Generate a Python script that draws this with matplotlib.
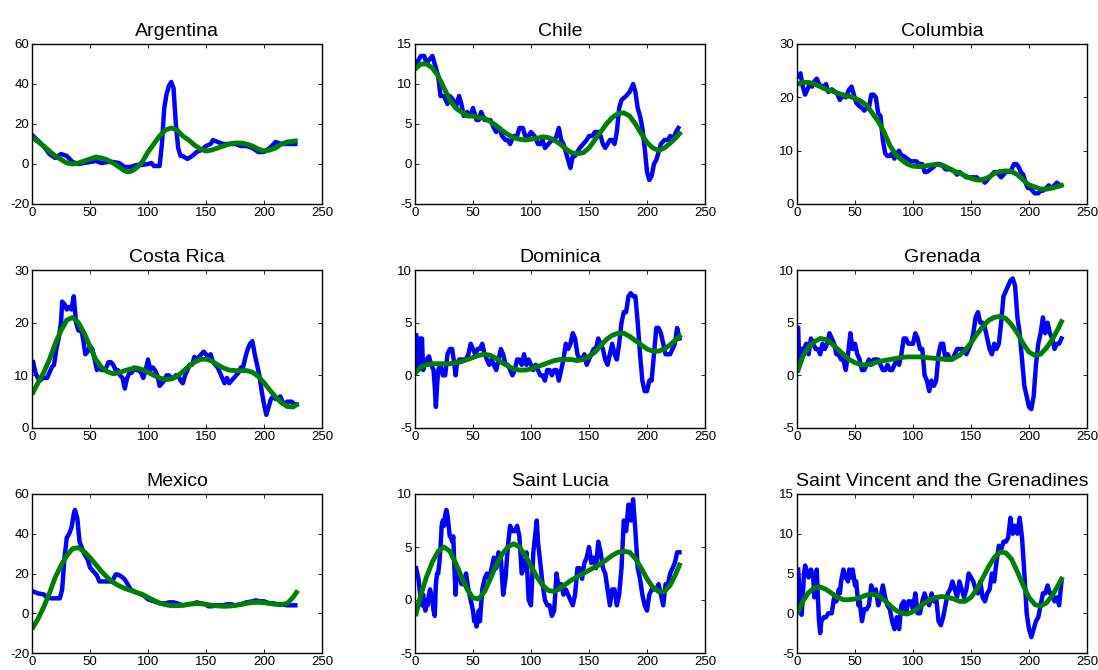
import matplotlib
matplotlib.use("Agg")
import matplotlib.pyplot as plt

plt.rcParams['font.family'] = ['Liberation Sans', 'DejaVu Sans']
plt.rcParams['axes.unicode_minus'] = False

# raw series (blue) and trend (green)
arg_x = [1, 10, 15, 20, 25, 30, 35, 40, 45, 50, 55, 60, 65, 70, 75, 80, 85, 90, 95, 100, 103, 105, 110, 112, 114,
         116, 118, 120, 122, 124, 126, 128, 130, 134, 138, 142, 146, 150, 154, 156, 160, 165, 170, 175, 180, 185,
         190, 195, 200, 205, 210, 215, 220, 227]
arg_y = [14, 9, 5, 3, 5, 4, 1, 0, 0.5, 1, 1.5, 0.5, 1, 1, 0.5, -1.5, -1.5, -0.5, -0.5, 0, 0.5, -1, -1, 10, 28,
         35, 39, 41, 38, 20, 8, 4, 4, 2.5, 4, 6, 7, 9, 10, 12, 11, 10, 10, 10, 9, 9,
         8, 6, 6, 8, 11, 10, 10, 10]
arg_fx = [1, 10, 20, 30, 35, 40, 45, 50, 55, 60, 65, 70, 75, 80, 83, 86, 90, 95, 100, 105, 110, 115, 120, 125, 130,
          135, 140, 145, 150, 155, 160, 165, 170, 175, 180, 185, 190, 195, 200, 205, 210, 215, 220, 227]
arg_fy = [13, 9, 4, 0.5, 0, 0.5, 1.5, 2.5, 3.5, 3, 2, 0.5, -1.5, -3.5, -4, -3.5, -2, 1, 6, 10, 14, 17, 18, 17, 14,
          12, 9.5, 7.5, 6.5, 7, 8, 9, 10, 10.5, 10.5, 10, 9, 7.5, 6.5, 7, 8, 10, 11, 11.5]

chl_x = [1, 3, 5, 8, 10, 12, 15, 18, 20, 22, 25, 28, 30, 33, 35, 38, 40, 42, 45, 48, 50, 53, 55, 57, 60, 63, 65,
         68, 70, 73, 75, 78, 80, 82, 85, 88, 90, 93, 95, 98, 100, 103, 106, 108, 110, 112, 115, 118, 120, 122, 124,
         126, 128, 130, 132, 134, 136, 138, 140, 142, 145, 148, 150, 153, 155, 158, 160, 162, 164, 166, 168, 170,
         172, 174, 176, 178, 182, 185, 188, 190, 192, 194, 196, 198, 200, 202, 204, 206, 208, 210, 212, 215, 218,
         220, 222, 225, 227]
chl_y = [12.5, 13, 13.5, 13.5, 12.5, 13, 13.5, 12, 11, 8.5, 8.5, 7.5, 8.5, 8, 7, 8.5, 7.5, 6, 6.5, 6, 7, 5.5, 5.5,
         6.5, 5.5, 5.5, 5.5, 4.5, 4, 4.5, 3.5, 3, 3, 2.5, 3.5, 3.5, 4.5, 4.5, 3.5, 3.5, 4, 3.5, 2.5, 2.5, 3, 2, 2.5,
         3, 3, 3.5, 4.5, 3, 2.5, 1.5, 0.5, -0.5, 1, 1, 1.5, 2, 2.5, 3, 3.5, 3.5, 4, 4, 3.5, 2.5, 2, 2.5, 3, 3, 2.5,
         4, 7, 8, 8.5, 9, 10, 9, 7, 6, 4.5, 2, -1, -2, -1.5, 0, 0.5, 1.5, 2.5, 3, 3, 3.5, 3, 4, 4.5]
chl_fx = [1, 5, 10, 15, 20, 25, 30, 35, 40, 45, 50, 55, 60, 65, 70, 75, 80, 85, 90, 95, 100, 105, 110, 115, 120,
          125, 130, 135, 140, 145, 150, 155, 160, 165, 170, 175, 180, 185, 190, 195, 200, 205, 210, 215, 220, 225,
          228]
chl_fy = [12, 12.5, 12.5, 12, 11, 9.5, 8, 7, 6.5, 6, 6, 5.8, 5.7, 5.3, 4.8, 4.2, 3.7, 3.3, 3.1, 3.0, 3.1, 3.2,
          3.4, 3.3, 3.0, 2.5, 1.9, 1.4, 1.3, 1.4, 2.0, 3.0, 4.0, 5.0, 5.8, 6.3, 6.4, 6.0, 5.0, 3.8, 2.7, 2.0, 1.7,
          2.0, 2.6, 3.3, 3.8]

col_x = [1, 3, 5, 7, 9, 11, 13, 15, 17, 19, 21, 23, 25, 27, 30, 33, 35, 37, 40, 42, 45, 47, 49, 51, 53, 56, 58, 60,
         62, 64, 66, 68, 70, 72, 74, 76, 78, 80, 82, 84, 86, 88, 90, 92, 95, 98, 100, 103, 105, 108, 110, 112, 115,
         118, 120, 123, 126, 128, 130, 133, 136, 138, 140, 143, 146, 150, 153, 155, 157, 160, 162, 164, 166, 168,
         170, 172, 174, 176, 178, 180, 183, 185, 187, 189, 191, 193, 195, 197, 199, 201, 203, 205, 208, 210, 212,
         215, 217, 219, 222, 224, 227]
col_y = [24, 24.5, 22, 20.5, 21.5, 22.5, 22, 23, 23.5, 22.5, 22, 22, 22.5, 21, 21.5, 21, 20.5, 19.5, 20.5, 20,
         21.5, 22, 20.5, 19, 18.5, 18, 17.5, 18, 18, 20.5, 20.5, 20, 17, 16.5, 12, 9.5, 9, 9, 9.5, 8.5, 9.5, 10, 9,
         9, 8.5, 8, 8, 8, 7.5, 7.5, 6, 6, 6.5, 7, 7.5, 7.5, 7, 6.5, 6.5, 6.5, 6, 5.5, 6, 5.5, 5, 5, 5, 5, 4.5, 4.5,
         4, 4.5, 5, 5.5, 6, 6, 5.5, 5, 5.5, 6, 6, 6.5, 7.5, 7.5, 7, 6, 5.5, 4, 3, 3, 2.5, 2, 2, 2.5, 2.5, 3, 3.5, 3,
         3.5, 4, 3.5]
col_fx = [1, 5, 10, 15, 20, 25, 30, 35, 40, 45, 50, 55, 60, 65, 70, 75, 80, 85, 90, 95, 100, 105, 110, 115, 120,
          125, 130, 135, 140, 145, 150, 155, 160, 165, 170, 175, 180, 185, 190, 195, 200, 205, 210, 215, 220, 225,
          228]
col_fy = [22.5, 22.8, 22.8, 22.5, 22, 21.5, 21.2, 20.8, 20.4, 20.2, 19.8, 19.3, 18.5, 17, 15.5, 13.5, 11, 9.3,
          8.3, 7.5, 7.1, 7.0, 7.1, 7.3, 7.4, 7.3, 6.8, 6.2, 5.8, 5.3, 4.8, 4.5, 4.6, 5.0, 5.7, 6.1, 6.2, 6.1, 5.5,
          4.5, 3.6, 3.2, 2.8, 2.8, 3.0, 3.3, 3.5]

cri_x = list(range(1, 26, 2)) + list(range(26, 229, 2))
cri_y = [12.5, 10.5, 9.5, 9, 9.5, 9.5, 9.5, 10.5, 11.5, 12, 15, 17, 20, 24, 23.5, 22.5, 23, 22.5, 25, 20, 18.5,
         19, 17, 14, 14.5, 15.5, 15, 13, 11, 11.5, 11, 11, 11.5, 12.5, 12.5, 12, 11, 11, 10, 9.5, 7.5, 9.5, 10.5,
         10.5, 11.5, 11, 11, 10.5, 9.5, 11, 13, 11, 11.5, 11, 10, 8, 8.5, 9, 10, 10, 9.5, 9.5, 10, 10, 9, 8.5, 10,
         11, 12, 12, 13.5, 13, 13.5, 14, 14.5, 14, 13.5, 14, 12.5, 12, 11.5, 10.5, 9.5, 8.5, 9.5, 8.5, 9, 9.5, 10,
         10.5, 11.5, 11.5, 13.5, 15, 16, 16.5, 14, 12, 10, 7, 4.5, 2.5, 4, 5.5, 6, 5.5, 5.5, 6, 5, 4.5, 5, 5, 5,
         4.5, 4.5]
cri_fx = [1, 5, 10, 15, 20, 25, 30, 35, 40, 45, 50, 55, 60, 65, 70, 75, 80, 85, 90, 95, 100, 105, 110, 115, 120,
          125, 130, 135, 140, 145, 150, 155, 160, 165, 170, 175, 180, 185, 190, 195, 200, 205, 210, 215, 220, 225,
          228]
cri_fy = [6.8, 8.5, 10.5, 13, 16, 18.5, 20.5, 21, 20, 18, 15.5, 13, 11.5, 10.7, 10.3, 10.5, 10.9, 11.2, 11.4,
          11.1, 10.6, 10.0, 9.5, 9.2, 9.3, 9.8, 10.7, 11.7, 12.5, 13.0, 13.1, 12.7, 12.0, 11.4, 11.0, 10.9, 10.9,
          10.9, 10.6, 9.8, 8.6, 7.2, 5.9, 4.8, 4.1, 4.0, 4.4]

dom_x = [1, 2, 3, 4, 5, 6, 7, 8, 10, 12, 14, 16, 17, 18, 19, 20, 22, 24, 26, 28, 30, 32, 34, 35, 36, 38, 40, 42,
         44, 46, 48, 50, 52, 54, 56, 58, 60, 62, 64, 66, 68, 70, 72, 74, 76, 78, 80, 82, 84, 86, 88, 90, 92, 94, 96,
         98, 100, 102, 104, 106, 108, 110, 112, 114, 116, 118, 120, 122, 124, 126, 128, 130, 132, 134, 136, 138,
         140, 142, 144, 146, 148, 150, 152, 154, 156, 158, 160, 162, 164, 166, 168, 170, 172, 174, 176, 178, 180,
         182, 184, 186, 188, 190, 192, 194, 196, 198, 200, 202, 204, 206, 208, 210, 212, 214, 216, 218, 220, 222,
         224, 226, 228]
dom_y = [3.8, 1, 0.5, 3.5, 1, 3.5, 0.5, 1, 1.5, 1.8, 1, 0.5, -1, -3, -1, 0.5, 1, 0, 0, 2, 2.5, 2.5, 1, 0, 1, 1.5,
         1.5, 1.5, 1.5, 2, 3, 2.5, 2, 2.5, 2.5, 3, 2, 1.5, 1, 1.5, 1, 0.5, 1.5, 2.5, 2, 1, 1, 0.5, 0, 0.5, 1.5, 1.5,
         1, 2, 1, 1.5, 1, 0.5, 1, 0.5, 0, 0, -0.5, 0.5, 0.5, 0, 0.5, 0.5, -0.5, 0.5, 1.5, 3, 2.5, 3, 4, 3.5, 2,
         1.5, 1.5, 2, 1, 1.5, 2, 2.5, 2.5, 3.5, 3, 2.5, 1.5, 1, 2, 3, 2, 1.5, 3, 5, 6, 6, 7.5, 7.8, 7.5, 7.5, 5, 2,
         -0.5, -1.5, -1.5, -0.5, -0.5, 2, 4.5, 4.5, 4, 3, 2, 2, 2, 2.5, 3, 4.5, 3.5]
dom_fx = [1, 5, 10, 15, 20, 25, 30, 35, 40, 45, 50, 55, 60, 65, 70, 75, 80, 85, 90, 95, 100, 105, 110, 115, 120,
          125, 130, 135, 140, 145, 150, 155, 160, 165, 170, 175, 180, 185, 190, 195, 200, 205, 210, 215, 220, 225,
          228]
dom_fy = [0.3, 0.8, 1.0, 1.1, 1.1, 1.1, 1.1, 1.2, 1.3, 1.5, 1.7, 1.9, 2.0, 1.9, 1.6, 1.2, 0.9, 0.6, 0.5, 0.5, 0.6,
          0.8, 1.0, 1.2, 1.4, 1.5, 1.5, 1.5, 1.4, 1.5, 1.8, 2.2, 2.8, 3.4, 3.8, 4.0, 4.0, 3.7, 3.3, 2.9, 2.5, 2.3,
          2.3, 2.5, 2.9, 3.4, 3.7]

grd_x = [1, 2, 3, 4] + list(range(6, 229, 2))
grd_y = [4.5, 1, 2, 2.5, 2.5, 3, 2, 3.5, 3, 2.5, 2.5, 2, 3, 2.5, 3, 4, 3.5, 3, 2, 2, 1.5, 1.5, 0.5, 2, 4, 2.5, 3,
         2, 1.5, 0.5, 0.5, 1, 1.5, 1, 1.5, 1.5, 1.5, 1, 0.5, 0.5, 1, 0.5, 0.5, 1, 1.5, 1, 2, 3.5, 3.5, 3, 3, 3, 4,
         3.5, 2.5, 2.5, 0, -0.5, -1.5, -0.5, -1, -0.5, 2, 3, 3, 1.5, 2, 1.5, 1.5, 2, 2.5, 2.5, 2.5, 2.5, 2, 2.5, 3,
         4, 5.5, 6, 5, 5, 4.5, 3.5, 2.5, 2, 3, 2.5, 3, 5, 7.5, 8, 8.5, 9, 9.2, 8.5, 5.5, 4, 1.5, -1, -2, -3, -3.2,
         -2, 1, 3, 4, 5.5, 4, 5, 4, 3.5, 2.5, 3, 3, 3.5]
grd_fx = [1, 5, 10, 15, 20, 25, 30, 35, 40, 45, 50, 55, 60, 65, 70, 75, 80, 85, 90, 95, 100, 105, 110, 115, 120,
          125, 130, 135, 140, 145, 150, 155, 160, 165, 170, 175, 180, 185, 190, 195, 200, 205, 210, 215, 220, 225,
          228]
grd_fy = [0.5, 1.8, 2.7, 3.2, 3.5, 3.4, 3.0, 2.5, 2.0, 1.5, 1.2, 1.0, 1.0, 1.1, 1.3, 1.4, 1.5, 1.6, 1.7, 1.75,
          1.75, 1.75, 1.7, 1.65, 1.6, 1.55, 1.5, 1.6, 1.9, 2.4, 3.1, 3.9, 4.6, 5.2, 5.5, 5.6, 5.4, 4.8, 4.0, 3.0,
          2.2, 1.9, 2.0, 2.6, 3.4, 4.4, 5.1]

mex_x = [1, 5, 10, 13, 16, 20, 24, 26, 28, 30, 32, 34, 36, 37, 39, 41, 43, 45, 48, 50, 53, 56, 58, 62, 65, 68, 70,
         72, 74, 77, 80, 82, 85, 88, 92, 96, 100, 105, 110, 115, 118, 122, 125, 130, 135, 140, 142, 145, 150, 152,
         155, 160, 165, 168, 172, 175, 180, 185, 190, 193, 196, 200, 205, 208, 212, 215, 220, 225, 227]
mex_y = [11, 10, 9.5, 8, 7.5, 7.5, 7.5, 12, 28, 38, 40, 43, 50, 52, 48, 36, 33, 30, 27, 23, 21, 19, 16, 16, 16, 16,
         17, 19.5, 19.5, 18.5, 17, 15, 12, 11, 10, 9, 7, 6, 5, 5, 5.5, 5.5, 5, 4, 4.5, 5, 5.5, 5, 4.5, 3.5, 3.5, 4,
         4, 4.5, 4.5, 4, 4.5, 5.5, 6, 6.5, 6, 6, 5, 5, 4.5, 4.5, 4, 4, 4]
mex_fx = [1, 5, 10, 15, 20, 25, 30, 35, 40, 45, 50, 55, 60, 65, 70, 75, 80, 85, 90, 95, 100, 105, 110, 115, 120,
          125, 130, 135, 140, 145, 150, 155, 160, 165, 170, 175, 180, 185, 190, 195, 200, 205, 210, 215, 220, 225,
          228]
mex_fy = [-7, -3, 3, 10, 18, 24, 29, 32.5, 33, 31, 28, 24.5, 21, 18, 15.5, 13.8, 12.5, 11.5, 10.5, 9.5, 8, 6.5,
          5.2, 4.3, 3.8, 3.8, 4.0, 4.5, 4.8, 4.8, 4.5, 4.0, 3.7, 3.5, 3.6, 3.9, 4.4, 5.0, 5.4, 5.5, 5.3, 4.9, 4.5,
          4.3, 5.0, 8.0, 10.5]

slu_x = (list(range(1, 38)) + list(range(38, 50, 2)) + [50, 51, 52, 53, 54, 55] + list(range(56, 104, 2))
         + [104, 105, 106] + list(range(108, 229, 2)))
slu_y = [3, 2.5, 2, 1, 0, -0.5, 0.5, -0.5, -1, 0, -0.5, 0.5, 1, 0.5, 0, -1, -1.5, 1.5, 2.5, 2.5, 3.5, 5, 7, 7.5, 7,
         8, 8.5, 8, 7, 6, 6, 5.5, 6, 3, 0.5, 3, 3, 2.5, 1.5, 1.5, 2.5, 1, 0, -1, -2, -1.5, -2.5, -2, -1, -2, 1, 2,
         2.5, 2, 3, 4, 3, 4.5, 4, 0.5, 2, 5, 7, 6.5, 6.5, 7, 6, 2.5, 3, 4.5, 0, -0.5, 4.5, 6.5, 7.5, 5.5, 3.5, 1.5,
         0, -0.5, -0.5, -1.5, -1, 2.5, 1, 1.5, 0.5, 1, 0.5, 0, -0.5, 0.5, 3, 3, 2, 3.5, 4, 5, 3.5, 4, 3, 5.5, 4.5,
         3, 2.5, 1, -0.5, 1, 1, -0.5, 0.5, 3, 7.5, 6.5, 9, 7.5, 9.5, 6.5, 3, 2, 0.5, -0.5, -1, 0.5, 1, 1, 1, 1.5,
         0.5, -0.5, 1.5, 1.5, 2.5, 3, 3.5, 4.5, 4.5]
slu_fx = [1, 5, 10, 15, 20, 25, 30, 35, 40, 45, 50, 55, 60, 65, 70, 75, 80, 85, 90, 95, 100, 105, 110, 115, 120,
          125, 130, 135, 140, 145, 150, 155, 160, 165, 170, 175, 180, 185, 190, 195, 200, 205, 210, 215, 220, 225,
          228]
slu_fy = [-1.3, 0.5, 2.2, 3.6, 4.6, 5.0, 4.6, 3.5, 2.2, 1.0, 0.2, 0.1, 0.8, 2.0, 3.3, 4.3, 5.0, 5.3, 5.0, 4.2,
          3.2, 2.2, 1.4, 0.9, 0.8, 1.1, 1.5, 1.9, 2.2, 2.5, 2.8, 3.1, 3.4, 3.8, 4.2, 4.5, 4.6, 4.5, 3.9, 3.0, 2.0,
          1.2, 0.8, 0.8, 1.4, 2.5, 3.3]

svg_x = [1, 2, 3, 4, 5, 6, 7, 8, 10, 12, 14, 15, 16, 17, 18, 19, 20, 21, 23, 25, 27, 30, 32, 34, 36, 37, 38, 40,
         42, 44, 45, 47, 48, 50, 51, 53, 54, 56, 58, 60, 62, 64, 66, 68, 70, 72, 74, 76, 78, 80, 82, 84, 86, 88, 90,
         92, 94, 96, 98, 100, 102, 104, 106, 108, 110, 112, 114, 116, 118, 120, 122, 124, 126, 128, 130, 132, 134,
         136, 138, 140, 142, 144, 146, 148, 150, 152, 154, 156, 158, 160, 162, 164, 166, 168, 170, 172, 174, 176,
         178, 180, 182, 184, 186, 188, 190, 192, 194, 196, 198, 200, 202, 204, 206, 208, 210, 212, 214, 216, 218,
         220, 222, 224, 226, 228]
svg_y = [5.5, 3, 0, -0.2, 2, 5, 6, 5.5, 4.5, 5.5, 4.5, 2, 4.5, 5.5, 2, -1, -2.5, -1, -0.5, -0.5, 0, 0, 2, 1.5, 3,
         2.5, 4, 5.5, 4.5, 4, 5.5, 4.5, 5.5, 3.5, 4, 1, 1.5, -1, 0.5, 0.5, 1, 3.5, 2.5, 3, 1, 2, 3.5, 2, 1, 0.5, -1,
         -2, -0.5, -2, 1, 1.5, 0, 1.5, 1.5, 0.5, 2.5, 0, 0, 1.5, 2.5, 1.5, 1, 2.5, 1.5, 2, -1, -1.5, -0.5, 1, 2.5,
         3, 4, 3, 2, 4, 3, 2, 3, 5, 4.5, 4, 3, 2.5, 4, 2, 1.5, 2.5, 3, 5, 4, 6.5, 8.5, 8, 9, 9, 9.5, 12, 10, 11, 10,
         12, 9.5, 5, 0, -2, -3, -2, -1, -0.5, 1, 2.5, 2.5, 3.5, 2.5, 2.5, 1.5, 2, 1, 4]
svg_fx = [1, 5, 10, 15, 20, 25, 30, 35, 40, 45, 50, 55, 60, 65, 70, 75, 80, 85, 90, 95, 100, 105, 110, 115, 120,
          125, 130, 135, 140, 145, 150, 155, 160, 165, 170, 175, 180, 185, 190, 195, 200, 205, 210, 215, 220, 225,
          228]
svg_fy = [0.2, 1.5, 2.6, 3.2, 3.3, 3.0, 2.5, 2.0, 1.7, 1.7, 1.8, 2.0, 2.3, 2.4, 2.2, 1.7, 1.0, 0.4, 0.0, -0.1,
          0.2, 0.7, 1.3, 1.7, 2.0, 2.1, 2.0, 1.8, 1.5, 1.5, 2.0, 3.0, 4.4, 5.8, 7.0, 7.7, 7.6, 6.8, 5.2, 3.5, 2.0,
          1.1, 0.9, 1.3, 2.2, 3.5, 4.3]

titles = ['Argentina', 'Chile', 'Columbia', 'Costa Rica', 'Dominica', 'Grenada',
          'Mexico', 'Saint Lucia', 'Saint Vincent and the Grenadines']
raw = [(arg_x, arg_y), (chl_x, chl_y), (col_x, col_y), (cri_x, cri_y), (dom_x, dom_y),
       (grd_x, grd_y), (mex_x, mex_y), (slu_x, slu_y), (svg_x, svg_y)]
trend = [(arg_fx, arg_fy), (chl_fx, chl_fy), (col_fx, col_fy), (cri_fx, cri_fy), (dom_fx, dom_fy),
         (grd_fx, grd_fy), (mex_fx, mex_fy), (slu_fx, slu_fy), (svg_fx, svg_fy)]
ylims = [(-20, 60, 20), (-5, 15, 5), (0, 30, 10), (0, 30, 10), (-5, 10, 5),
         (-5, 10, 5), (-20, 60, 20), (-5, 10, 5), (-5, 15, 5)]

fig = plt.figure(figsize=(10.98, 6.70), dpi=100)
lefts = [32 / 1098, 415 / 1098, 797 / 1098]
tops = [44, 270, 494]
bottoms = [204, 428, 653]
w = 290 / 1098

for i in range(9):
    r, c = divmod(i, 3)
    ax = fig.add_axes([lefts[c], 1 - bottoms[r] / 670, w, (bottoms[r] - tops[r]) / 670])
    ax.plot(raw[i][0], raw[i][1], color='#0000ff', lw=3.2, solid_joinstyle='round')
    ax.plot(trend[i][0], trend[i][1], color='#008000', lw=3.5)
    lo, hi, st = ylims[i]
    ax.set_xlim(0, 250)
    ax.set_ylim(lo, hi)
    ax.set_xticks(range(0, 251, 50))
    ax.set_yticks(range(lo, hi + 1, st))
    ax.tick_params(direction='in', top=True, right=True, length=3, width=0.6,
                   labelsize=9.5, pad=2)
    ax.tick_params(axis='x', pad=2.5)
    for s in ax.spines.values():
        s.set_linewidth(1.0)
    ax.set_title(titles[i], fontsize=14, pad=6)

fig.savefig('out.png', dpi=100)
